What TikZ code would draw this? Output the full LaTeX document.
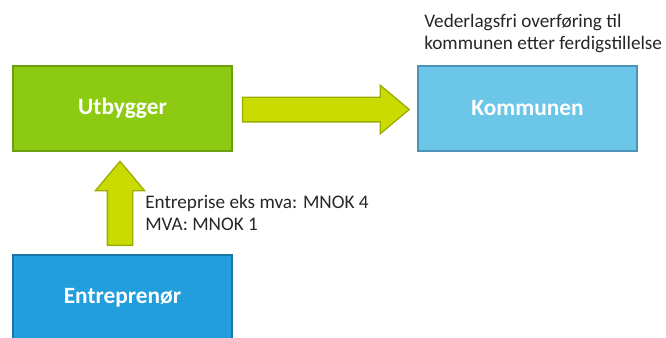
\documentclass[tikz,border=0pt]{standalone}
\usepackage{fontspec}
\setmainfont{Carlito}
\usetikzlibrary{shapes.arrows,calc}
\definecolor{utbfill}{HTML}{8DCB12}
\definecolor{utbline}{HTML}{6C9E10}
\definecolor{komfill}{HTML}{6CC6E7}
\definecolor{komline}{HTML}{4D93B5}
\definecolor{entfill}{HTML}{219EDB}
\definecolor{entline}{HTML}{1A76A8}
\definecolor{arrfill}{HTML}{C9DB00}
\definecolor{arrline}{HTML}{9CAD00}

\begin{document}
\begin{tikzpicture}[x=0.75pt, y=-0.75pt,
  box/.style={draw, line width=1.5pt, minimum width=164pt, minimum height=63.75pt,
    inner sep=0pt, font=\fontsize{17.5}{20}\selectfont\bfseries, text=white},
  blockarrow/.style={single arrow, draw=arrline, fill=arrfill, line width=1pt,
    inner sep=0pt, minimum width=35pt, single arrow head extend=9pt,
    single arrow tip angle=80, anchor=tail},
  note/.style={anchor=north west, inner sep=0pt, align=left,
    font=\fontsize{14.4}{16.5}\selectfont, text=black!85}]
\useasboundingbox (0,0) rectangle (666,337);
% Boxes
\node[box, fill=utbfill, draw=utbline] (utb) at (122.5,108.5) {Utbygger};
\node[box, fill=komfill, draw=komline] (kom) at (527.5,108.5) {Kommunen};
\node[box, fill=entfill, draw=entline] (ent) at (122.5,297.5) {Entrepren\o r};
% Block arrows
\node[blockarrow, minimum height=125pt, text height=17.5pt] (tokom) at ($(utb.east)+(9,1)$) {};
\node[blockarrow, minimum height=63pt, text height=18pt, rotate=90] (toutb) at ($(ent.north)+(-2.5,-8)$) {};
% Notes
\node[note] (over) at (424,14) {Vederlagsfri overf\o ring til\\kommunen etter ferdigstillelse};
\node[note] (pris) at (145,195) {Entreprise eks mva: MNOK 4\\MVA: MNOK 1};
\end{tikzpicture}
\end{document}
